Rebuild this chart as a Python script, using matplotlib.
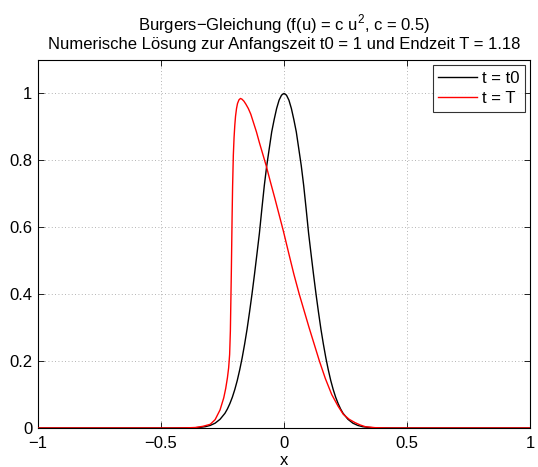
import matplotlib
matplotlib.use('Agg')
import matplotlib.pyplot as plt

plt.rcParams['font.family'] = ['Liberation Sans', 'DejaVu Sans']
plt.rcParams['mathtext.fontset'] = 'custom'
plt.rcParams['mathtext.rm'] = 'Liberation Sans'
plt.rcParams['axes.unicode_minus'] = True

# initial profile, t = t0
x_t0 = [-1.0, -0.45, -0.40, -0.36, -0.34, -0.32, -0.30, -0.28, -0.26, -0.24, -0.23,
        -0.22, -0.21, -0.20, -0.19, -0.18, -0.17, -0.16, -0.15, -0.14, -0.13, -0.12,
        -0.11, -0.10, -0.09, -0.08, -0.07, -0.06, -0.05, -0.04, -0.03, -0.02, -0.01,
        0.0, 0.01, 0.02, 0.03, 0.04, 0.05, 0.06, 0.07, 0.08, 0.09, 0.10, 0.11, 0.12,
        0.13, 0.14, 0.15, 0.16, 0.17, 0.18, 0.19, 0.20, 0.21, 0.22, 0.23, 0.24, 0.26,
        0.28, 0.30, 0.32, 0.34, 0.36, 0.40, 0.45, 1.0]
u_t0 = [0.0, 0.0, 0.0002, 0.0009, 0.0019, 0.0039, 0.0077, 0.0144, 0.026, 0.044, 0.057,
        0.073, 0.092, 0.115, 0.142, 0.174, 0.210, 0.251, 0.296, 0.347, 0.401, 0.459,
        0.52, 0.582, 0.655, 0.725, 0.785, 0.835, 0.885, 0.922, 0.955, 0.980, 0.995,
        1.0, 0.995, 0.980, 0.955, 0.922, 0.885, 0.835, 0.785, 0.725, 0.655, 0.582, 0.52, 0.459,
        0.401, 0.347, 0.296, 0.251, 0.210, 0.174, 0.142, 0.115, 0.092, 0.073, 0.057, 0.044, 0.026,
        0.0144, 0.0077, 0.0039, 0.0019, 0.0009, 0.0002, 0.0, 0.0]

# solution at end time T
x_T = [-1.0, -0.45, -0.40, -0.36, -0.33, -0.30, -0.28, -0.26, -0.245, -0.237, -0.23,
       -0.225, -0.221, -0.218, -0.216, -0.214, -0.2125, -0.211, -0.209, -0.206, -0.203,
       -0.200, -0.197, -0.193, -0.189, -0.183, -0.177, -0.171, -0.163, -0.155, -0.145,
       -0.135, -0.125, -0.112, -0.10, -0.086, -0.072, -0.055, -0.037, -0.02, -0.003,
       0.02, 0.04, 0.062, 0.082, 0.102, 0.123, 0.144, 0.168, 0.194, 0.22, 0.241,
       0.265, 0.289, 0.31, 0.33, 0.37, 0.42, 1.0]
u_T = [0.0, 0.0, 0.0004, 0.0015, 0.005, 0.011, 0.025, 0.054, 0.09, 0.118, 0.15,
       0.18, 0.22, 0.29, 0.38, 0.47, 0.55, 0.63, 0.72, 0.815, 0.868,
       0.905, 0.932, 0.955, 0.970, 0.981, 0.985, 0.983, 0.977, 0.968, 0.955,
       0.938, 0.915, 0.885, 0.853, 0.818, 0.783, 0.735, 0.686, 0.638, 0.59,
       0.52, 0.46, 0.40, 0.35, 0.30, 0.25, 0.20, 0.148, 0.10, 0.065, 0.041,
       0.026, 0.016, 0.009, 0.004, 0.001, 0.0, 0.0]

xticks = [-1, -0.5, 0, 0.5, 1]
xticklabels = ['\u22121', '\u22120.5', '0', '0.5', '1']
yticks = [0, 0.2, 0.4, 0.6, 0.8, 1]
yticklabels = ['0', '0.2', '0.4', '0.6', '0.8', '1']

fig = plt.figure(figsize=(5.38, 4.67), dpi=100, facecolor='white')
ax = fig.add_axes([38 / 538, 39 / 467, 492 / 538, 368 / 467])

ax.plot(x_t0, u_t0, color='black', linewidth=1.0, zorder=3, label='t = t0')
ax.plot(x_T, u_T, color='red', linewidth=1.0, zorder=3, label='t = T')

ax.set_xlim(-1, 1)
ax.set_ylim(0, 1.1)
ax.set_xticks(xticks)
ax.set_xticklabels(xticklabels)
ax.set_yticks(yticks)
ax.set_yticklabels(yticklabels)
ax.tick_params(direction='in', top=True, right=True, length=4, width=0.6,
               labelsize=12, colors='black', pad=4)
ax.tick_params(axis='x', pad=6)
ax.grid(True, color='#9a9a9a', linestyle=(0, (1, 3)), linewidth=0.6)
for spine in ax.spines.values():
    spine.set_linewidth(0.8)
    spine.set_edgecolor('black')

ax.set_xlabel('x', fontsize=12, labelpad=1)
ax.set_title('Burgers\u2212Gleichung (f(u) = c u$^\\mathregular{2}$, c = 0.5)\n'
             'Numerische L\u00f6sung zur Anfangszeit t0 = 1 und Endzeit T = 1.18',
             fontsize=12, pad=8, linespacing=1.05)

leg = ax.legend(loc='upper right', fontsize=12, frameon=True, fancybox=False,
                edgecolor='black', borderaxespad=0.3, handlelength=2.3,
                handletextpad=0.3, borderpad=0.35, labelspacing=0.3)
leg.get_frame().set_linewidth(0.8)

plt.savefig('out.png', dpi=100, facecolor='white')
